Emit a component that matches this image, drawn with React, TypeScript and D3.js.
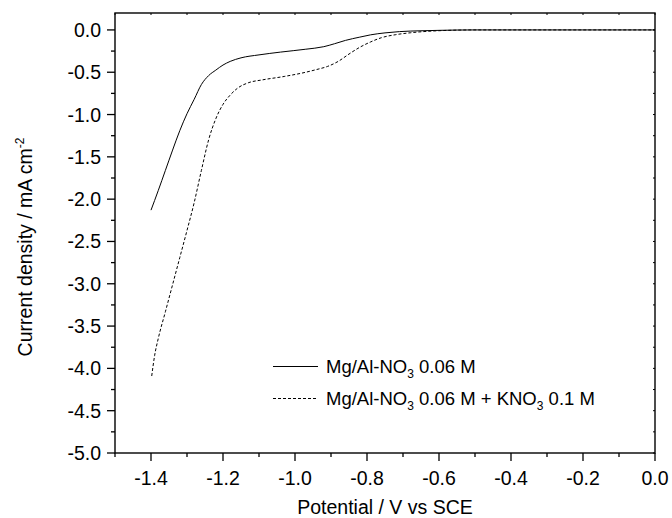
import React from "react";
import * as d3 from "d3";

const solidX = [-1.4, -1.38, -1.36, -1.34, -1.32, -1.3, -1.28, -1.26, -1.24, -1.22, -1.2, -1.18, -1.15, -1.1, -1.04, -0.97, -0.92, -0.89, -0.86, -0.82, -0.79, -0.75, -0.71, -0.65, -0.6, -0.5, -0.3, -0.1, 0];
const solidY = [-2.13, -1.9, -1.66, -1.42, -1.19, -0.99, -0.82, -0.645, -0.54, -0.475, -0.415, -0.372, -0.33, -0.295, -0.262, -0.228, -0.198, -0.163, -0.124, -0.085, -0.058, -0.035, -0.02, -0.01, -0.005, 0, 0, 0, 0];

const dashedX = [-1.398, -1.39, -1.38, -1.36, -1.34, -1.32, -1.3, -1.28, -1.26, -1.24, -1.22, -1.2, -1.18, -1.16, -1.13, -1.09, -1.03, -0.97, -0.94, -0.91, -0.88, -0.85, -0.82, -0.79, -0.76, -0.72, -0.68, -0.63, -0.58, -0.5, -0.3, -0.1, 0];
const dashedY = [-4.09, -3.85, -3.65, -3.33, -3.01, -2.69, -2.37, -2.04, -1.66, -1.3, -1.05, -0.88, -0.77, -0.69, -0.625, -0.59, -0.55, -0.5, -0.468, -0.432, -0.372, -0.285, -0.205, -0.142, -0.092, -0.056, -0.034, -0.016, -0.006, 0, 0, 0, 0];

const xMajor = [-1.4, -1.2, -1.0, -0.8, -0.6, -0.4, -0.2, 0.0];
const xMinor = [-1.5, -1.3, -1.1, -0.9, -0.7, -0.5, -0.3, -0.1];
const yMajor = [0.0, -0.5, -1.0, -1.5, -2.0, -2.5, -3.0, -3.5, -4.0, -4.5, -5.0];
const yMinor = [-0.25, -0.75, -1.25, -1.75, -2.25, -2.75, -3.25, -3.75, -4.25, -4.75];

const FONT = "'Liberation Sans', Arial, sans-serif";

export default function App() {
  const W = 672, H = 518;
  const L = 115, R = 655, T = 13, B = 453;
  const x = d3.scaleLinear().domain([-1.5, 0]).range([L, R]);
  const y = d3.scaleLinear().domain([-5, 0.2]).range([B, T]);

  const line = d3.line<[number, number]>()
    .x((d) => x(d[0]))
    .y((d) => y(d[1]))
    .curve(d3.curveMonotoneX);

  const solidPts: [number, number][] = solidX.map((v, i) => [v, solidY[i]]);
  const dashedPts: [number, number][] = dashedX.map((v, i) => [v, dashedY[i]]);

  const fmt = (v: number) => (Math.abs(v) < 1e-9 ? "0.0" : v.toFixed(1));
  const allX = [...xMajor, ...xMinor];
  const allY = [...yMajor, ...yMinor];

  return (
    <svg width={W} height={H} style={{ position: "absolute", left: 0, top: 0, background: "#fff" }} fontFamily={FONT}>
      <rect x={0} y={0} width={W} height={H} fill="#fff" />
      <defs>
        <clipPath id="clip">
          <rect x={L} y={T} width={R - L} height={B - T} />
        </clipPath>
      </defs>
      <g clipPath="url(#clip)">
        <path d={line(solidPts) || ""} fill="none" stroke="#000" strokeWidth={1} />
        <path d={line(dashedPts) || ""} fill="none" stroke="#000" strokeWidth={1} strokeDasharray="3,2" />
      </g>
      {xMajor.map((v) => (
        <line key={"xM" + v} x1={x(v)} x2={x(v)} y1={B} y2={B + 8} stroke="#000" strokeWidth={1.3} />
      ))}
      {xMinor.map((v) => (
        <line key={"xm" + v} x1={x(v)} x2={x(v)} y1={B} y2={B + 4} stroke="#000" strokeWidth={1.3} />
      ))}
      {allX.map((v) => (
        <line key={"xt" + v} x1={x(v)} x2={x(v)} y1={T} y2={T + 2} stroke="#000" strokeWidth={1} />
      ))}
      {yMajor.map((v) => (
        <line key={"yM" + v} x1={L - 8} x2={L} y1={y(v)} y2={y(v)} stroke="#000" strokeWidth={1.3} />
      ))}
      {yMinor.map((v) => (
        <line key={"ym" + v} x1={L - 4} x2={L} y1={y(v)} y2={y(v)} stroke="#000" strokeWidth={1.3} />
      ))}
      {allY.map((v) => (
        <line key={"yr" + v} x1={R - 2} x2={R} y1={y(v)} y2={y(v)} stroke="#000" strokeWidth={1} />
      ))}
      <rect x={L} y={T} width={R - L} height={B - T} fill="none" stroke="#000" strokeWidth={1.4} />
      {xMajor.map((v) => (
        <text key={"xl" + v} x={x(v)} y={485} textAnchor="middle" fontSize={19.5} fill="#000">
          {fmt(v)}
        </text>
      ))}
      {yMajor.map((v) => (
        <text key={"yl" + v} x={101} y={y(v) + 7} textAnchor="end" fontSize={19.5} fill="#000">
          {fmt(v)}
        </text>
      ))}
      <text x={(L + R) / 2} y={514} textAnchor="middle" fontSize={19.5} fill="#000">
        Potential / V vs SCE
      </text>
      <text transform="translate(32,247) rotate(-90)" textAnchor="middle" fontSize={19.5} fill="#000">
        Current density / mA cm
        <tspan fontSize={12} dy={-8}>-2</tspan>
      </text>
      <line x1={273} x2={318} y1={366.5} y2={366.5} stroke="#000" strokeWidth={1} />
      <text x={326} y={373} fontSize={18.5} fill="#000">
        Mg/Al-NO<tspan fontSize={12} dy={5}>3</tspan>
        <tspan dy={-5}> 0.06 M</tspan>
      </text>
      <line x1={273} x2={318} y1={398.5} y2={398.5} stroke="#000" strokeWidth={1} strokeDasharray="3,2" />
      <text x={326} y={405} fontSize={18.5} fill="#000">
        Mg/Al-NO<tspan fontSize={12} dy={5}>3</tspan>
        <tspan dy={-5}> 0.06 M + KNO</tspan>
        <tspan fontSize={12} dy={5}>3</tspan>
        <tspan dy={-5}> 0.1 M</tspan>
      </text>
    </svg>
  );
}
